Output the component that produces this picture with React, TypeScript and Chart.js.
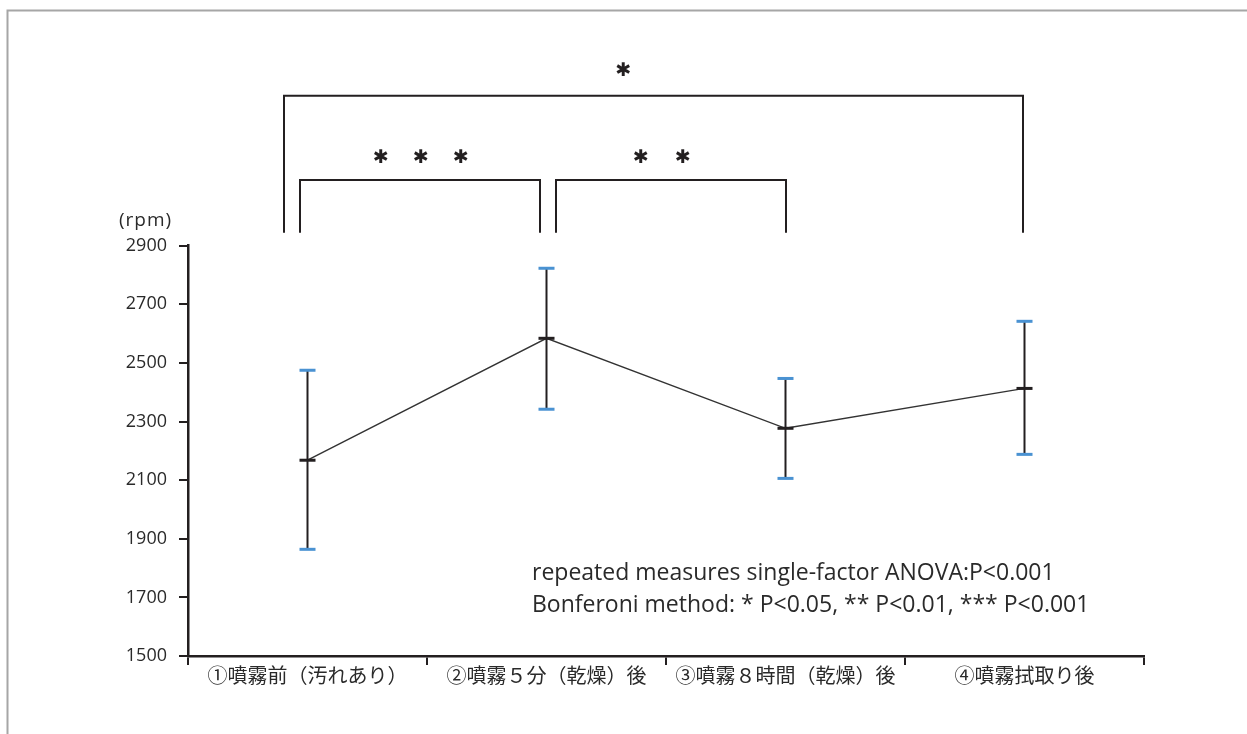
import React, { useEffect, useRef } from "react";
import { Chart, registerables } from "chart.js";

Chart.register(...registerables);

// ---- data ----
const categories = [
  "①噴霧前（汚れあり）",
  "②噴霧５分（乾燥）後",
  "③噴霧８時間（乾燥）後",
  "④噴霧拭取り後",
];
const means = [2168, 2584, 2277, 2413];
const upperValues = [2475, 2823, 2447, 2642];
const lowerValues = [1864, 2342, 2106, 2188];
const yTickValues = [1500, 1700, 1900, 2100, 2300, 2500, 2700, 2900];
const yUnit = "(rpm)";
const statLines = [
  "repeated measures single-factor ANOVA:P<0.001",
  "Bonferoni method: * P<0.05, ** P<0.01, *** P<0.001",
];
const comparisonFrom = [0, 0, 1];
const comparisonTo = [3, 1, 2];
const comparisonStars = [1, 3, 2];

// ---- styling / geometry (not data) ----
const W = 1247;
const H = 734;
const AXIS_COLOR = "#231f20";
const TEXT_COLOR = "#2a2a2a";
const CAP_BLUE = "#4a92d2";
const bracketGeom = [
  { fromOff: -23.5, toOff: -1.5, topOff: 150, starOff: 175, starShift: -30, starGap: 40 },
  { fromOff: -7.5, toOff: -6.5, topOff: 65.7, starOff: 88, starShift: 1, starGap: 40 },
  { fromOff: 9.5, toOff: 0.5, topOff: 65.7, starOff: 88, starShift: -9, starGap: 42 },
];

const overlayPlugin = {
  id: "overlay",
  beforeDraw(chart: any) {
    const ctx = chart.ctx;
    ctx.save();
    ctx.fillStyle = "#ffffff";
    ctx.fillRect(0, 0, W, H);
    ctx.strokeStyle = "#a6a6a6";
    ctx.lineWidth = 2;
    ctx.beginPath();
    ctx.moveTo(7.5, H);
    ctx.lineTo(7.5, 10.5);
    ctx.lineTo(W, 10.5);
    ctx.stroke();
    ctx.restore();
  },
  afterDatasetsDraw(chart: any) {
    const ctx = chart.ctx;
    const xs = chart.scales.x;
    const ys = chart.scales.y;
    const area = chart.chartArea;
    ctx.save();
    // error bars
    for (let i = 0; i < means.length; i++) {
      const x = xs.getPixelForValue(i);
      const yu = ys.getPixelForValue(upperValues[i]);
      const yl = ys.getPixelForValue(lowerValues[i]);
      const ym = ys.getPixelForValue(means[i]);
      ctx.strokeStyle = AXIS_COLOR;
      ctx.lineWidth = 2;
      ctx.beginPath();
      ctx.moveTo(x, yu);
      ctx.lineTo(x, yl);
      ctx.stroke();
      ctx.fillStyle = CAP_BLUE;
      ctx.fillRect(x - 8, yu - 1.5, 16, 3);
      ctx.fillRect(x - 8, yl - 1.5, 16, 3);
      ctx.fillStyle = AXIS_COLOR;
      ctx.fillRect(x - 8, ym - 1.5, 16, 3);
    }
    // unit label
    ctx.fillStyle = TEXT_COLOR;
    ctx.font = "19px 'Open Sans'";
    ctx.textAlign = "left";
    ctx.textBaseline = "middle";
    try { (ctx as any).letterSpacing = "1px"; } catch (e) {}
    ctx.fillText(yUnit, 119, area.top - 25);
    try { (ctx as any).letterSpacing = "0px"; } catch (e) {}

    // brackets
    ctx.strokeStyle = AXIS_COLOR;
    ctx.lineWidth = 2;
    const bottom = area.top - 13;
    for (let k = 0; k < comparisonFrom.length; k++) {
      const g = bracketGeom[k];
      const x1 = xs.getPixelForValue(comparisonFrom[k]) + g.fromOff;
      const x2 = xs.getPixelForValue(comparisonTo[k]) + g.toOff;
      const top = area.top - g.topOff;
      ctx.beginPath();
      ctx.moveTo(x1, bottom);
      ctx.lineTo(x1, top);
      ctx.lineTo(x2, top);
      ctx.lineTo(x2, bottom);
      ctx.stroke();
      const n = comparisonStars[k];
      const cx = (x1 + x2) / 2 + g.starShift;
      ctx.font = "bold 19px 'DejaVu Sans'";
      ctx.textAlign = "center";
      ctx.textBaseline = "middle";
      ctx.fillStyle = AXIS_COLOR;
      for (let s = 0; s < n; s++) {
        const sx = cx + (s - (n - 1) / 2) * g.starGap;
        ctx.fillText("✱", sx, area.top - g.starOff);
      }
    }

    // stats text
    ctx.fillStyle = TEXT_COLOR;
    ctx.font = "23px 'Open Sans'";
    ctx.textAlign = "left";
    ctx.textBaseline = "middle";
    statLines.forEach((t, i) => {
      ctx.fillText(t, area.left + 344, area.top + 328 + i * 32);
    });
    ctx.restore();
  },
};

export default function App() {
  const ref = useRef<HTMLCanvasElement | null>(null);
  useEffect(() => {
    if (!ref.current) return;
    const chart = new Chart(ref.current, {
      type: "line",
      data: {
        labels: categories,
        datasets: [
          {
            data: means,
            borderColor: "#333333",
            borderWidth: 1.4,
            pointRadius: 0,
            tension: 0,
            fill: false,
          },
        ],
      },
      options: {
        responsive: false,
        animation: false,
        devicePixelRatio: 1,
        layout: { padding: { top: 245.7, right: W - 1144, left: 0, bottom: 0 } },
        plugins: { legend: { display: false }, tooltip: { enabled: false } },
        scales: {
          x: {
            type: "category",
            offset: true,
            grid: {
              offset: true,
              drawOnChartArea: false,
              drawTicks: true,
              tickLength: 9,
              color: AXIS_COLOR,
              lineWidth: 2,
            },
            border: { display: true, color: AXIS_COLOR, width: 2.5 },
            ticks: {
              color: TEXT_COLOR,
              font: { family: "'Noto Sans CJK JP'", size: 20 },
              padding: -2,
              maxRotation: 0,
              autoSkip: false,
            },
            afterFit: (s: any) => {
              s.height = H - 656;
            },
          },
          y: {
            type: "linear",
            min: 1500,
            max: 2900,
            afterBuildTicks: (s: any) => {
              s.ticks = yTickValues.map((v) => ({ value: v }));
            },
            grid: {
              drawOnChartArea: false,
              drawTicks: true,
              tickLength: 9,
              color: AXIS_COLOR,
              lineWidth: 2,
            },
            border: { display: true, color: AXIS_COLOR, width: 2.5 },
            ticks: {
              color: TEXT_COLOR,
              font: { family: "'Open Sans'", size: 18 },
              padding: 12,
              callback: (v: any) => String(v),
            },
            afterFit: (s: any) => {
              s.width = 188;
            },
          },
        },
      },
      plugins: [overlayPlugin],
    } as any);
    return () => chart.destroy();
  }, []);
  return (
    <canvas
      ref={ref}
      width={W}
      height={H}
      style={{ position: "absolute", left: 0, top: 0, width: W, height: H }}
    />
  );
}
